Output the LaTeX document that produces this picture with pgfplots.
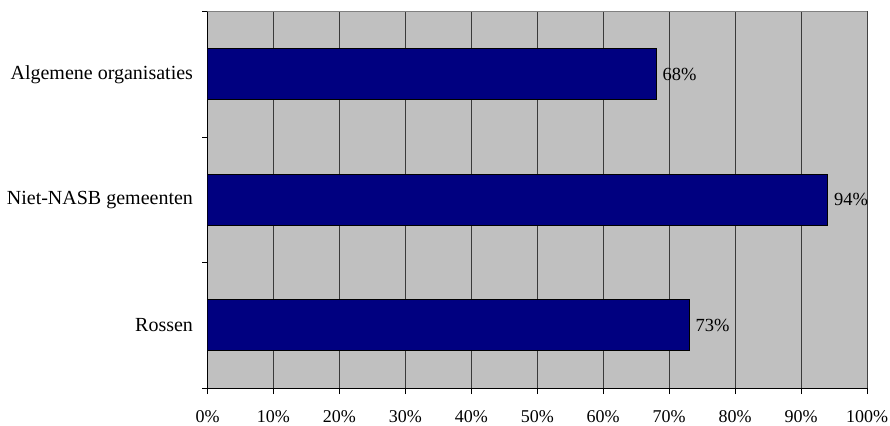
\documentclass[border=0pt]{standalone}
\usepackage{fontspec}
\setmainfont{Liberation Serif}
\usepackage{pgfplots}
\pgfplotsset{compat=1.18}
\definecolor{barnavy}{HTML}{000080}
\definecolor{plotgray}{HTML}{C0C0C0}
\definecolor{gridgray}{HTML}{3A3A3A}
\definecolor{framegray}{HTML}{808080}
\begin{document}
\begin{tikzpicture}
  \begin{axis}[
    xbar,
    width=659.5pt, height=376.5pt,
    scale only axis,
    xmin=0, xmax=100,
    ymin=-0.5, ymax=2.5,
    axis x line*=bottom,
    axis y line*=left,
    axis line style={black, line width=0.8pt},
    axis background/.style={fill=plotgray},
    xtick={0,10,...,100},
    xticklabel={\pgfmathprintnumber{\tick}\%},
    xmajorgrids,
    major grid style={gridgray, line width=0.8pt},
    ytick={0,1,2},
    yticklabels={Rossen,Niet-NASB gemeenten,Algemene organisaties},
    minor ytick={-0.5,0.5,1.5,2.5},
    major y tick style={draw=none},
    minor tick length=5pt,
    major tick length=6pt,
    tick align=outside,
    tick style={black, line width=0.8pt},
    xticklabel style={font=\fontsize{18}{21}\selectfont, yshift=-13pt},
    yticklabel style={font=\fontsize{20}{23}\selectfont, xshift=-5pt},
    /pgf/number format/assume math mode=true,
    bar width=0.406,
    nodes near coords={\pgfmathprintnumber{\pgfplotspointmeta}\%},
    nodes near coords align=horizontal,
    every node near coord/.append style={font=\fontsize{18.5}{21}\selectfont, xshift=3pt},
  ]
    \addplot[fill=barnavy, draw=black, line width=0.8pt] coordinates {
      (73,0)
      (94,1)
      (68,2)
    };
    \draw[framegray, line width=1pt] (rel axis cs:0,1) -- (rel axis cs:1,1) -- (rel axis cs:1,0);
  \end{axis}
  \pgfresetboundingbox
  \path[use as bounding box] ([xshift=-207.5pt,yshift=-37pt]current axis.south west)
    rectangle ([xshift=23pt,yshift=11.5pt]current axis.north east);
\end{tikzpicture}
\end{document}
